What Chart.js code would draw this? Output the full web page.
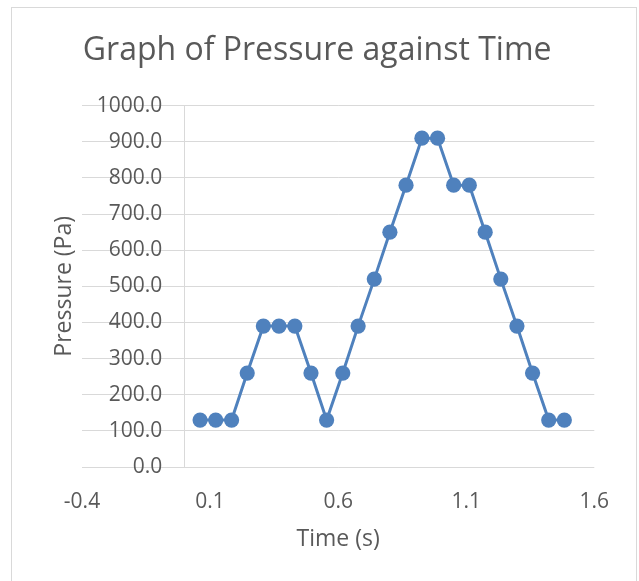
<!DOCTYPE html>
<html>
<head>
<meta charset="utf-8">
<script src="https://cdn.jsdelivr.net/npm/chart.js@4/dist/chart.umd.min.js"></script>
<style>
  html, body { margin: 0; padding: 0; background: #fff; }
  #frame {
    position: absolute; left: 11px; top: 7px;
    width: 626px; height: 600px;
    border: 1px solid #d9d9d9; box-sizing: border-box;
  }
  #wrap { position: absolute; left: 0; top: 0; width: 639px; height: 581px; }
</style>
</head>
<body>
<div id="frame"></div>
<div id="wrap"><canvas id="pressureChart"></canvas></div>
<script>
// pressure readings over time
const timeS = [0.061, 0.122, 0.184, 0.245, 0.308, 0.369, 0.431, 0.494, 0.555, 0.618, 0.678, 0.741,
               0.802, 0.865, 0.927, 0.988, 1.051, 1.112, 1.174, 1.235, 1.298, 1.359, 1.422, 1.483];
const pressurePa = [130, 130, 130, 260, 390, 390, 390, 260, 130, 260, 390, 520,
                    650, 780, 910, 910, 780, 780, 650, 520, 390, 260, 130, 130];

// axis ticks
const xTicks = [-0.4, 0.1, 0.6, 1.1, 1.6];
const yTicks = [0, 100, 200, 300, 400, 500, 600, 700, 800, 900, 1000];

const TEXT = '#595959';
const GRID = '#d9d9d9';
const BLUE = '#4f81bd';
const FONT = 'Open Sans';

const points = timeS.map((t, i) => ({ x: t, y: pressurePa[i] }));

function initChart(){
  const ctx = document.getElementById('pressureChart').getContext('2d');
  new Chart(ctx, {
    type: 'scatter',
    data: {
      datasets: [{
        label: 'Pressure',
        data: points,
        showLine: true,
        borderColor: BLUE,
        backgroundColor: BLUE,
        borderWidth: 3,
        pointRadius: 7.6,
        pointBorderWidth: 0,
        pointBackgroundColor: BLUE,
        yAxisID: 'y'
      }]
    },
    options: {
      responsive: true,
      maintainAspectRatio: false,
      animation: false,
      layout: { padding: { top: 0, left: 40, right: 44.7, bottom: 28.2 } },
      plugins: {
        legend: { display: false },
        tooltip: { enabled: false },
        title: {
          display: true,
          text: 'Graph of Pressure against Time',
          color: TEXT,
          font: { family: FONT, size: 32, weight: 'normal', lineHeight: 1.2 },
          padding: { top: 31.6, bottom: 35.7 }
        }
      },
      scales: {
        x: {
          type: 'linear',
          min: -0.4,
          max: 1.6,
          afterBuildTicks: (scale) => { scale.ticks = xTicks.map(v => ({ value: v })); },
          afterFit: (scale) => { scale.height = 85.8; },
          grid: { display: false, drawTicks: false },
          border: { display: false },
          ticks: {
            color: TEXT,
            padding: 22.1,
            maxRotation: 0,
            autoSkip: false,
            font: { family: FONT, size: 21, lineHeight: 1.2 },
            callback: (v) => Number(v).toFixed(1)
          },
          title: {
            display: true,
            text: 'Time (s)',
            color: TEXT,
            font: { family: FONT, size: 23, lineHeight: 1.2 },
            padding: { top: 10, bottom: 0 }
          }
        },
        y: {
          type: 'linear',
          position: 'left',
          min: 0,
          max: 1000,
          afterBuildTicks: (scale) => { scale.ticks = yTicks.map(v => ({ value: v })); },
          afterFit: (scale) => { scale.width = 42; },
          grid: { color: GRID, lineWidth: 1, drawTicks: false },
          border: { display: false },
          ticks: {
            mirror: true,
            crossAlign: 'far',
            padding: 14.8,
            color: TEXT,
            font: { family: FONT, size: 21, lineHeight: 1.2 },
            callback: (v) => Number(v).toFixed(1)
          },
          title: {
            display: true,
            text: 'Pressure (Pa)',
            color: TEXT,
            font: { family: FONT, size: 23, lineHeight: 1.2 },
            padding: { top: 10.8, bottom: 3.6 }
          }
        },
        // vertical axis line crossing at time = 0
        yZero: {
          axis: 'y',
          type: 'linear',
          position: { x: 0 },
          afterFit: (scale) => { scale.width = 0; },
          grid: { display: false, drawTicks: false },
          border: { display: true, color: GRID, width: 1 },
          ticks: { display: false }
        }
      }
    }
  });
}

window.addEventListener('load', initChart);
</script>
</body>
</html>
